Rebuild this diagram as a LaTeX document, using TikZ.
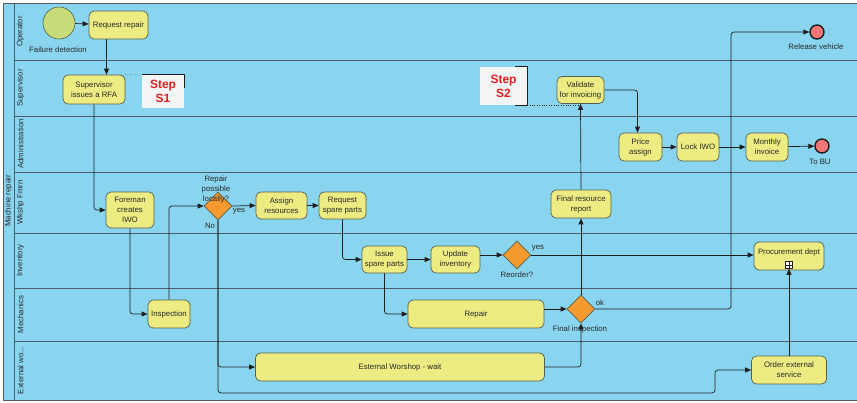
\documentclass[tikz,border=0pt]{standalone}
\usepackage{fontspec}
\setmainfont{Liberation Sans}
\usetikzlibrary{shapes.geometric,arrows.meta}

\definecolor{lanebg}{RGB}{137,213,240}
\definecolor{laneline}{RGB}{80,92,104}
\definecolor{taskfill}{RGB}{237,236,130}
\definecolor{taskline}{RGB}{84,96,80}
\definecolor{gatefill}{RGB}{246,153,46}
\definecolor{startfill}{RGB}{198,220,120}
\definecolor{endfill}{RGB}{240,118,118}
\definecolor{flowc}{RGB}{30,30,30}
\definecolor{txt}{RGB}{40,40,40}
\definecolor{stepred}{RGB}{226,32,32}
\definecolor{notefill}{RGB}{243,245,245}

\newcommand{\tasksize}{\fontsize{7.8}{10}\selectfont}
\newcommand{\extlane}{External wo...}

\tikzset{
    task/.style={draw=taskline, fill=taskfill, rounded corners=5pt, line width=0.7pt,
        align=center, inner sep=0pt, font=\tasksize, text=txt},
    gate/.style={diamond, draw=taskline, fill=gatefill, minimum width=28pt,
        minimum height=28pt, inner sep=0pt, line width=0.7pt},
    startev/.style={circle, draw=taskline, fill=startfill, minimum size=32pt,
        inner sep=0pt, line width=0.6pt},
    endev/.style={circle, draw=flowc, fill=endfill, minimum size=14pt,
        inner sep=0pt, line width=1.4pt},
    flow/.style={draw=flowc, line width=0.7pt, rounded corners=3pt,
        -{Triangle[length=6pt,width=5pt]}},
    lbl/.style={font=\tasksize, text=txt, inner sep=0pt, align=center},
    lanelabel/.style={font=\tasksize, text=txt, rotate=90, inner sep=0pt},
    stepnote/.style={fill=notefill, inner sep=0pt, minimum width=42pt, minimum height=33pt,
        align=center, font=\fontsize{12}{14}\selectfont\bfseries, text=stepred},
}

\begin{document}
\begin{tikzpicture}[x=1pt, y=-1pt]
    \useasboundingbox (0,0) rectangle (857,402);
    % pool and lanes
    \fill[lanebg] (3,3) rectangle (857,400);
    \draw[laneline, line width=0.8pt] (857,3) -- (3,3) -- (3,400) -- (857,400);
    \draw[laneline, line width=0.8pt] (14,3) -- (14,400);
    \foreach \y in {60,116,172,233,288,341}
        \draw[laneline, line width=0.8pt] (14,\y) -- (857,\y);
    \node[lanelabel] (pool) at (8.5,201) {Machine repair};
    \foreach \yc/\lname [count=\i] in {31.5/Operator, 88/Supervisor, 144/Administration,
        202.5/Wkshp Fmrn, 260.5/Inventory, 314.5/Mechanics, 370.5/\extlane}
        \node[lanelabel] (lane\i) at (20.5,\yc) {\lname};

    % events
    \node[startev] (start) at (59,23) {};
    \node[lbl] (startlbl) at (58,50) {Failure detection};
    \node[endev] (relv) at (817,32) {};
    \node[lbl] (relvlbl) at (816,47) {Release vehicle};
    \node[endev] (tobu) at (822,146) {};
    \node[lbl] (tobulbl) at (820,162) {To BU};

    % tasks
    \node[task, minimum width=59pt, minimum height=28pt] (req) at (118.5,25) {Request repair};
    \node[task, minimum width=62pt, minimum height=29pt] (sup) at (94,89.5) {Supervisor\\issues a RFA};
    \node[task, minimum width=47pt, minimum height=27pt] (val) at (580.5,90) {Validate\\for invoicing};
    \node[task, minimum width=43pt, minimum height=28pt] (price) at (640.5,147) {Price\\assign};
    \node[task, minimum width=42pt, minimum height=28pt] (lock) at (698,147) {Lock IWO};
    \node[task, minimum width=42pt, minimum height=28pt] (month) at (767,147) {Monthly\\invoice};
    \node[task, minimum width=48pt, minimum height=36pt] (fore) at (130,210) {Foreman\\creates\\IWO};
    \node[task, minimum width=51pt, minimum height=27pt] (assign) at (281.5,205.5) {Assign\\resources};
    \node[task, minimum width=47pt, minimum height=27pt] (reqsp) at (342.5,205.5) {Request\\spare parts};
    \node[task, minimum width=60pt, minimum height=28pt] (final) at (581,204) {Final resource\\report};
    \node[task, minimum width=45pt, minimum height=27pt] (issue) at (384.5,259.5) {Issue\\spare parts};
    \node[task, minimum width=49pt, minimum height=27pt] (upd) at (455.5,259.5) {Update\\inventory};
    \node[task, minimum width=70pt, minimum height=28pt, text depth=9pt] (proc) at (789,256) {Procurement dept};
    \node[draw=flowc, fill=white, line width=0.5pt, minimum size=7pt, inner sep=0pt] (procmark) at (789,265) {};
    \draw[flowc, line width=0.5pt] (procmark.north) -- (procmark.south) (procmark.west) -- (procmark.east);
    \node[task, minimum width=42pt, minimum height=28pt] (insp) at (169,314) {Inspection};
    \node[task, minimum width=136pt, minimum height=28pt] (repair) at (476,314) {Repair};
    \node[task, minimum width=289pt, minimum height=28pt] (ext) at (400,367) {Esternal Worshop - wait};
    \node[task, minimum width=75pt, minimum height=28pt] (ordext) at (789,370) {Order external\\service};

    % gateways
    \node[gate] (gw1) at (218,206) {};
    \node[lbl] (gw1lbl) at (216,189) {Repair\\possible\\locally?};
    \node[gate] (gw2) at (517,255) {};
    \node[lbl] (gw2lbl) at (517,275) {Reorder?};
    \node[gate] (gw3) at (581,309) {};
    \node[lbl] (gw3lbl) at (580,329) {Final inspection};

    % step notes
    \node[stepnote] (s1) at (163,91.5) {Step\\S1};
    \draw[flowc, line width=0.7pt] (s1.north west) -- (s1.north east) -- ([yshift=-13pt]s1.north east);
    \draw[flowc, dotted] (sup.north east) -- (s1.north west);
    \node[stepnote, minimum width=47pt, minimum height=38pt] (s2) at (503.5,86) {Step\\S2};
    \draw[flowc, line width=0.7pt] ([xshift=-12pt]s2.north east) -- (s2.north east)
        -- (s2.south east) -- ([xshift=-12pt]s2.south east);
    \draw[flowc, dotted] (s2.south east) -- (s2.south east -| val.south);

    % bend points
    \coordinate (bendA) at (715,393);
    \coordinate (bendB) at (731,32);

    % sequence flows
    \draw[flow] (start) -- (req);
    \draw[flow] ([xshift=-12pt]req.south) -- ([xshift=-12pt]req.south |- sup.north);
    \draw[flow] (sup.south) |- (fore.west);
    \draw[flow] (fore.south) |- (insp.west);
    \draw[flow] (insp.north) |- (gw1.west);
    \draw[flow] (gw1.east) -- (assign.west);
    \node[lbl] (yes1) at (239,211) {yes};
    \node[lbl] (no1) at (210,226) {No};
    \draw[flow] (gw1.south) |- (ext.west);
    \draw[flow] (gw1.south) |- (bendA) |- (ordext.west);
    \draw[flow] (assign) -- (reqsp);
    \draw[flow] (reqsp.south) |- (issue.west);
    \draw[flow] (issue) -- (upd);
    \draw[flow] (upd.east |- gw2.west) -- (gw2.west);
    \draw[flow] (gw2.east) -- (proc.west |- gw2.east);
    \node[lbl] (yes2) at (538,248) {yes};
    \draw[flow] (issue.south) |- (repair.west);
    \draw[flow] (repair.east |- gw3.west) -- (gw3.west);
    \draw[flow] (ext.east) -| (gw3.south);
    \draw[flow] (gw3.north) -- (final.south);
    \draw[flow] (final.north) -- (val.south);
    \draw[flow] (gw3.east) -| (bendB) -- (relv.west);
    \node[lbl] (ok) at (600,303) {ok};
    \draw[flow] (val.east) -| ([xshift=-3pt]price.north);
    \draw[flow] (price) -- (lock);
    \draw[flow] (lock) -- (month);
    \draw[flow] (month) -- (tobu);
    \draw[flow] (ordext.north) -- (procmark.south);
\end{tikzpicture}
\end{document}
